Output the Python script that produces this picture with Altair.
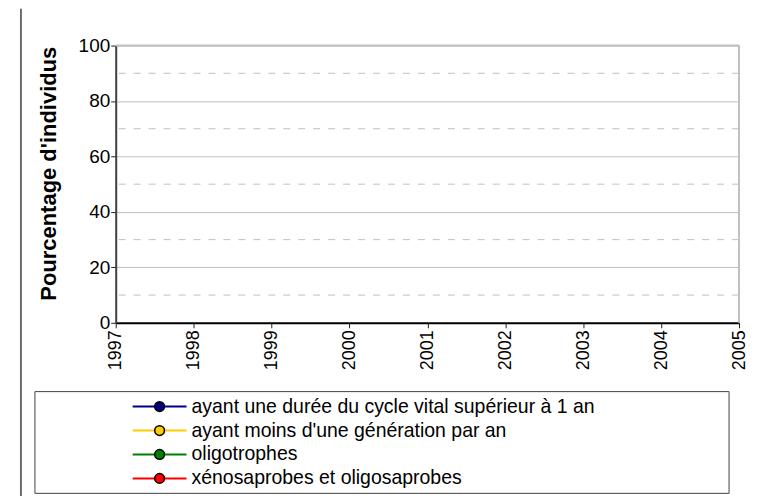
import altair as alt
import pandas as pd

# ---- data -------------------------------------------------------------
years = [1997, 1998, 1999, 2000, 2001, 2002, 2003, 2004, 2005]
series = [
    "ayant une durée du cycle vital supérieur à 1 an",
    "ayant moins d'une génération par an",
    "oligotrophes",
    "xénosaprobes et oligosaprobes",
]
colors = ["#000080", "#FFCC00", "#008000", "#FF0000"]
y_ticks = [0, 20, 40, 60, 80, 100]
y_minor = [10, 30, 50, 70, 90]

# The reference chart shows no plotted values: every series is empty.
vals_cycle = [None, None, None, None, None, None, None, None, None]
vals_generation = [None, None, None, None, None, None, None, None, None]
vals_oligotrophes = [None, None, None, None, None, None, None, None, None]
vals_saprobes = [None, None, None, None, None, None, None, None, None]
series_values = [vals_cycle, vals_generation, vals_oligotrophes, vals_saprobes]

rows = []
for name, vals in zip(series, series_values):
    for yr, v in zip(years, vals):
        rows.append({"year": yr, "series": name, "value": v})
df = pd.DataFrame(rows)
leg_df = pd.DataFrame({"series": series})

FONT = "Liberation Sans"

xs = alt.Scale(domain=[years[0], years[-1]], nice=False, zero=False)
ys = alt.Scale(domain=[y_ticks[0], y_ticks[-1]], nice=False)
cs = alt.Scale(domain=series, range=colors)

x_axis = alt.Axis(
    values=years,
    format="d",
    title=None,
    grid=False,
    labelAngle=270,
    labelFontSize=18,
    labelFont=FONT,
    labelColor="black",
    labelPadding=2,
    labelOverlap=False,
    labelBound=False,
    tickSize=5,
    tickColor="#202020",
    domainColor="black",
    domainWidth=2,
)

# ---- plot area ----------------------------------------------------------
minor = alt.Chart(pd.DataFrame({"v": y_minor})).mark_rule(
    strokeDash=[7, 8], color="#c0c0c0", strokeWidth=1
).encode(y=alt.Y("v:Q", scale=ys, axis=None))

top_border = alt.Chart(pd.DataFrame({"v": [y_ticks[-1]]})).mark_rule(
    color="#c0c0c0", strokeWidth=2
).encode(y=alt.Y("v:Q", scale=ys, axis=None))

right_border = alt.Chart(pd.DataFrame({"yr": [years[-1]]})).mark_rule(
    color="#c0c0c0", strokeWidth=2
).encode(x=alt.X("yr:Q", scale=xs, axis=x_axis))

lines = alt.Chart(df).mark_line(strokeWidth=2, point=True).encode(
    x=alt.X("year:Q", scale=xs, axis=x_axis),
    y=alt.Y(
        "value:Q",
        scale=ys,
        axis=alt.Axis(
            values=y_ticks,
            title="Pourcentage d'individus",
            titleFont=FONT,
            titleFontSize=22,
            titleFontWeight="bold",
            titleColor="black",
            titleAngle=270,
            titleAlign="center",
            titleBaseline="middle",
            titleX=-67,
            titleY=128,
            grid=True,
            gridColor="#c0c0c0",
            gridWidth=1,
            labelFontSize=19,
            labelFont=FONT,
            labelColor="black",
            labelPadding=1,
            tickSize=5,
            tickColor="#202020",
            domainColor="#404040",
            domainWidth=2,
        ),
    ),
    color=alt.Color("series:N", scale=cs, legend=None),
)

# ---- legend (drawn from the series list) --------------------------------
ly = alt.Y(
    "series:N",
    scale=alt.Scale(type="point", domain=series, range=[362, 434], padding=0),
    axis=None,
)
lc = alt.Color("series:N", scale=cs, legend=None)

leg_box = alt.Chart(pd.DataFrame({"k": [0]})).mark_rect(
    fillOpacity=0, stroke="#404040", strokeWidth=1
).encode(x=alt.value(-81), x2=alt.value(615), y=alt.value(347), y2=alt.value(449))

leg_line = alt.Chart(leg_df).mark_rule(strokeWidth=2).encode(
    x=alt.value(17), x2=alt.value(71), y=ly, color=lc
)
leg_pt = alt.Chart(leg_df).mark_circle(
    size=95, opacity=1, stroke="black", strokeWidth=1.5
).encode(x=alt.value(44), y=ly, color=lc)
leg_txt = alt.Chart(leg_df).mark_text(
    align="left", baseline="middle", fontSize=19.5, font=FONT, color="black"
).encode(x=alt.value(76), y=ly, text="series:N")

frame_left = alt.Chart(pd.DataFrame({"k": [0]})).mark_rule(
    color="#404040", strokeWidth=1.5
).encode(x=alt.value(-95), y=alt.value(-37), y2=alt.value(460))

chart = (
    alt.layer(
        minor, top_border, right_border, lines,
        leg_box, leg_line, leg_pt, leg_txt, frame_left,
    )
    .resolve_scale(y="independent")
    .properties(
        width=625,
        height=278,
        autosize=alt.AutoSizeParams(type="none"),
        padding={"left": 108, "top": 37, "right": 10, "bottom": 173},
        background="white",
    )
    .configure_view(stroke=None)
    .configure(font=FONT)
)

chart.save("out.html", embed_options={"renderer": "svg", "actions": False})
